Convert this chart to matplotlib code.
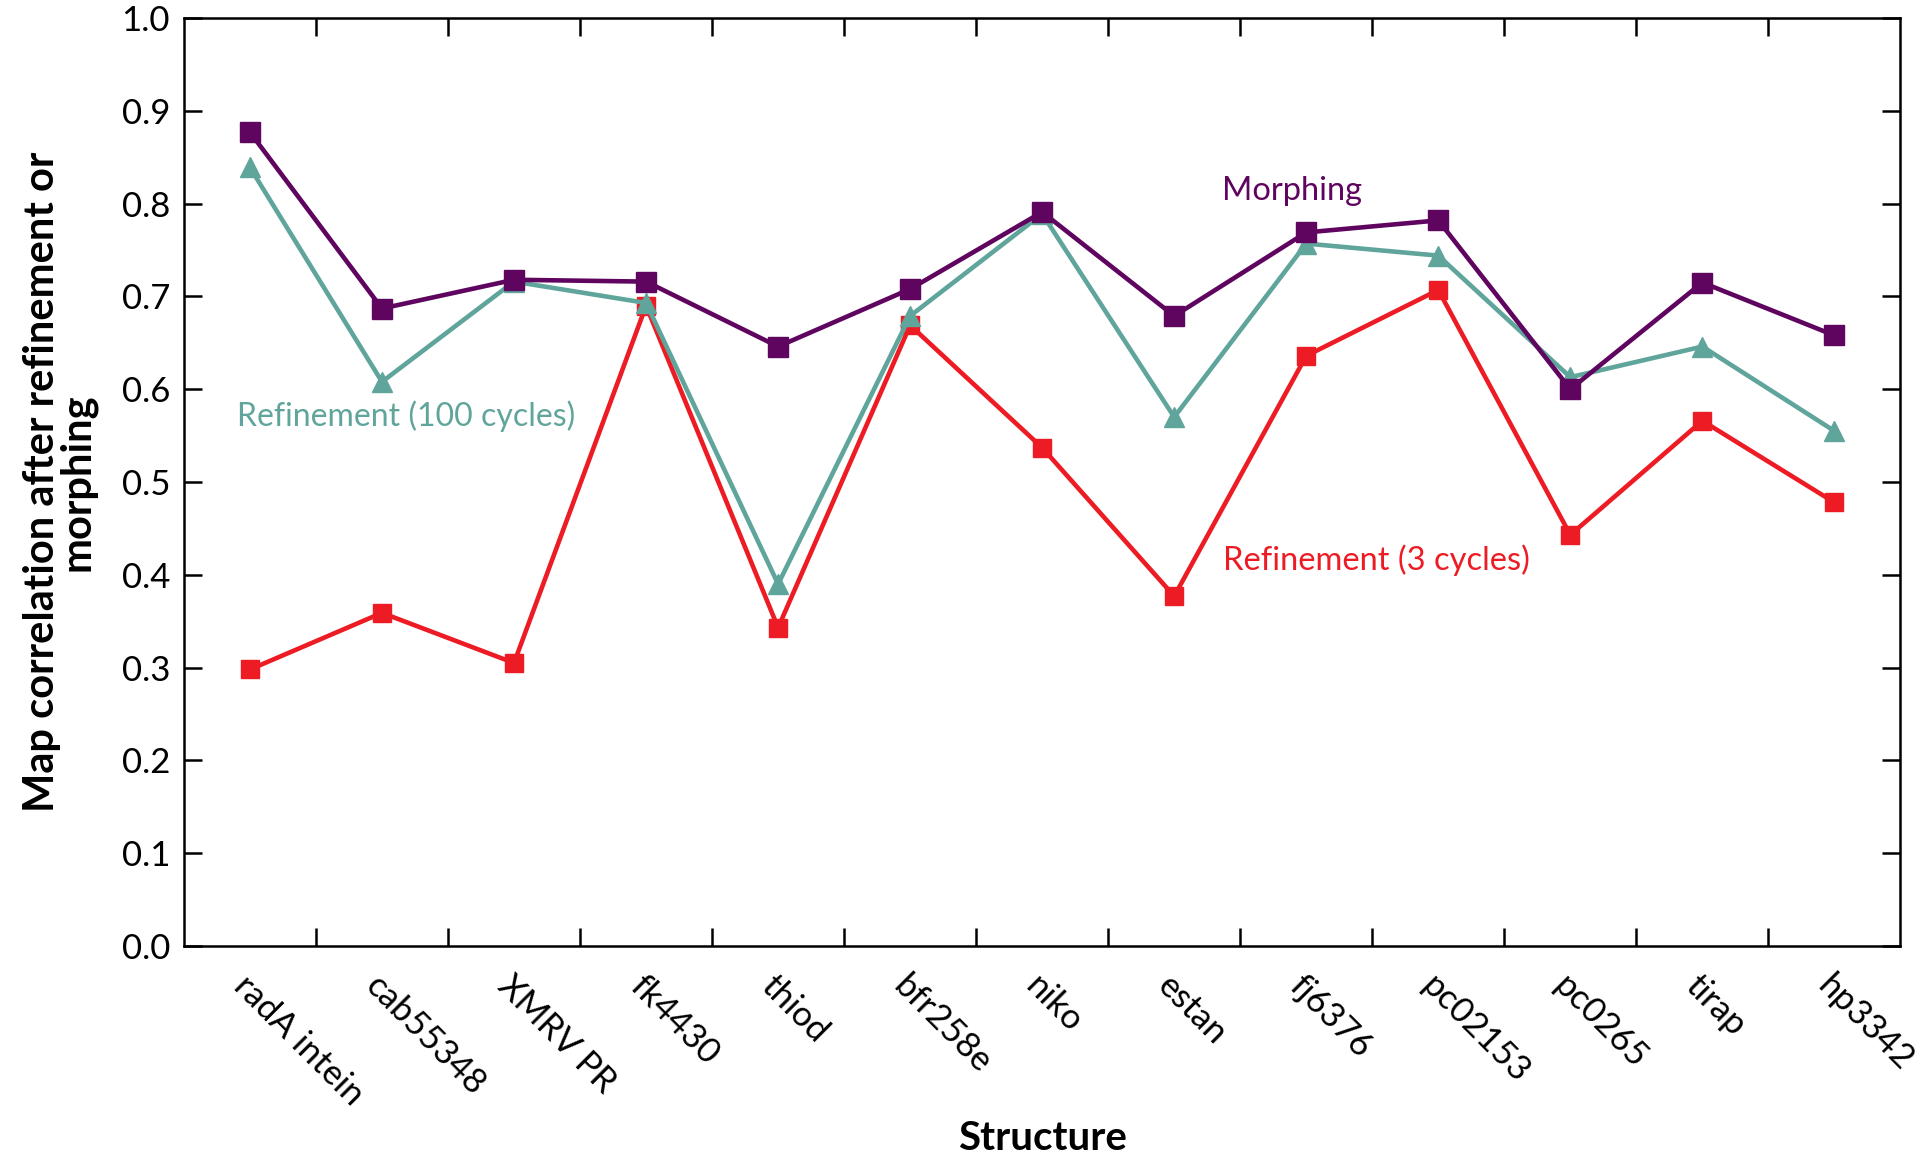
import matplotlib.pyplot as plt
from matplotlib.ticker import FixedLocator

plt.rcParams['font.family'] = ['Lato', 'DejaVu Sans']

structures = ['radA intein', 'cab55348', 'XMRV PR', 'fk4430', 'thiod', 'bfr258e', 'niko',
              'estan', 'fj6376', 'pc02153', 'pc0265', 'tirap', 'hp3342']
morphing = [0.877, 0.687, 0.718, 0.716, 0.646, 0.708, 0.791, 0.679, 0.769, 0.782, 0.600, 0.715, 0.658]
refine_100 = [0.839, 0.608, 0.716, 0.693, 0.390, 0.679, 0.789, 0.570, 0.757, 0.744, 0.613, 0.646, 0.555]
refine_3 = [0.298, 0.359, 0.305, 0.690, 0.343, 0.669, 0.537, 0.377, 0.636, 0.707, 0.443, 0.566, 0.478]

purple = '#5f0560'
teal = '#60a59b'
red = '#ed1c24'

fig = plt.figure(figsize=(19.2, 11.6), dpi=100)
ax = fig.add_axes([0.0958, 0.1845, 0.894, 0.7999])

x = range(len(structures))
ax.plot(x, refine_3, color=red, lw=3.3, marker='s', ms=13, zorder=3)
ax.plot(x, refine_100, color=teal, lw=3.3, marker='^', ms=15, zorder=4)
ax.plot(x, morphing, color=purple, lw=3.3, marker='s', ms=14, zorder=5)

ax.text(7.36, 0.814, 'Morphing', color=purple, fontsize=23.5, va='center')
ax.text(-0.10, 0.571, 'Refinement (100 cycles)', color=teal, fontsize=23, va='center')
ax.text(7.37, 0.416, 'Refinement (3 cycles)', color=red, fontsize=23.5, va='center')

ax.set_xlim(-0.5, len(structures) - 0.5)
ax.set_ylim(0, 1.0)
ax.set_yticks([i / 10 for i in range(11)])
ax.set_yticklabels([f'{i / 10:.1f}' for i in range(11)], fontsize=25)

ax.set_xticks(list(x))
ax.set_xticklabels(structures, fontsize=25, rotation=-45, ha='left', va='top',
                   rotation_mode='anchor')
ax.xaxis.set_minor_locator(FixedLocator([i + 0.5 for i in range(len(structures) - 1)]))
ax.tick_params(axis='x', which='major', length=0, pad=17)
ax.tick_params(axis='x', which='minor', direction='in', length=13, width=1.8,
               top=True, bottom=True)
ax.tick_params(axis='y', which='major', direction='in', length=13, width=1.8,
               left=True, right=True, pad=10)

for s in ax.spines.values():
    s.set_linewidth(1.8)

ax.set_xlabel('Structure', fontsize=29, fontweight='bold', labelpad=6)
ax.set_ylabel('Map correlation after refinement or\nmorphing', fontsize=30,
              fontweight='bold', labelpad=18, linespacing=0.9)

fig.savefig('out.png', dpi=100)
